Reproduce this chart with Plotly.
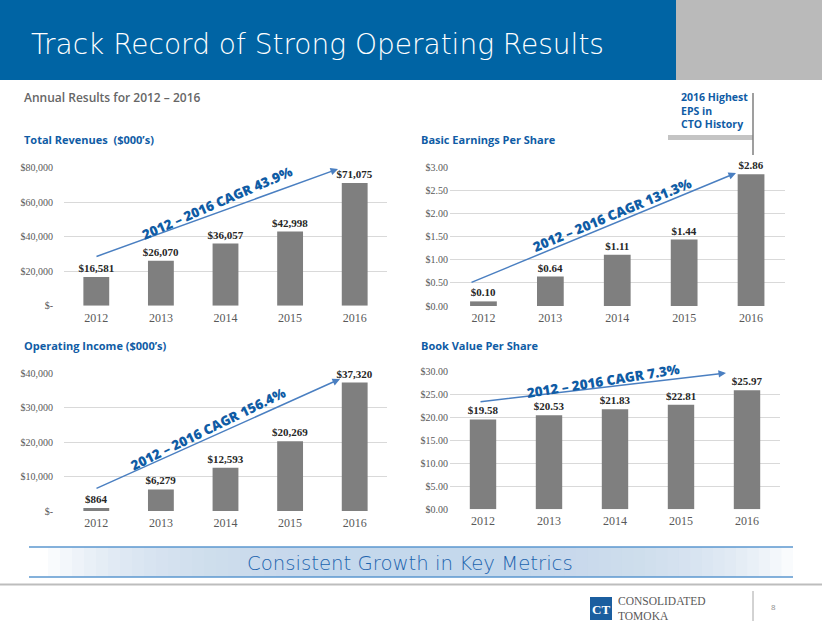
import plotly.graph_objects as go

# ---------------- data ----------------
years = ["2012", "2013", "2014", "2015", "2016"]
revenues = [16581, 26070, 36057, 42998, 71075]
eps = [0.10, 0.64, 1.11, 1.44, 2.86]
op_income = [864, 6279, 12593, 20269, 37320]
book_value = [19.58, 20.53, 21.83, 22.81, 25.97]

rev_ticks = [0, 20000, 40000, 60000, 80000]
rev_ticktext = ["$-", "$20,000", "$40,000", "$60,000", "$80,000"]
eps_ticks = [0, 0.5, 1.0, 1.5, 2.0, 2.5, 3.0]
eps_ticktext = ["$0.00", "$0.50", "$1.00", "$1.50", "$2.00", "$2.50", "$3.00"]
op_ticks = [0, 10000, 20000, 30000, 40000]
op_ticktext = ["$-", "$10,000", "$20,000", "$30,000", "$40,000"]
bv_ticks = [0, 5, 10, 15, 20, 25, 30]
bv_ticktext = ["$0.00", "$5.00", "$10.00", "$15.00", "$20.00", "$25.00", "$30.00"]

chart_titles = ["Total Revenues  ($000\u2019s)", "Basic Earnings Per Share",
                "Operating Income ($000\u2019s)", "Book Value Per Share"]
cagr_labels = ["2012 \u2013 2016 CAGR 43.9%", "2012 \u2013 2016 CAGR 131.3%",
               "2012 \u2013 2016 CAGR 156.4%", "2012 \u2013 2016 CAGR 7.3%"]

W, H = 822, 635
def px(x):
    return x / W
def py(y):
    return 1 - y / H

BLUE = "#0064A4"
TXTBLUE = "#0F5CA5"
BAR = "#7F7F7F"
GRID = "#D9D9D9"
TICK = "#595959"
SERIF = "Liberation Serif"
SANS = "Open Sans"
THIN = "DejaVu Sans"

fig = go.Figure()

series = [
    (revenues, [f"${v:,}" for v in revenues], "x", "y"),
    (eps, [f"${v:.2f}" for v in eps], "x2", "y2"),
    (op_income, [f"${v:,}" for v in op_income], "x3", "y3"),
    (book_value, [f"${v:.2f}" for v in book_value], "x4", "y4"),
]
for vals, labels, xa, ya in series:
    fig.add_trace(go.Bar(
        x=years, y=vals, text=labels, textposition="outside", constraintext="none",
        textfont=dict(family=SERIF, size=11, color="#262626", weight="bold"),
        marker=dict(color=BAR, line=dict(width=0)),
        cliponaxis=False, xaxis=xa, yaxis=ya, showlegend=False, hoverinfo="skip",
    ))

def xax(domain, anchor):
    return dict(domain=domain, anchor=anchor, type="category", showgrid=False,
                showline=False, zeroline=False, ticks="", automargin=False,
                tickfont=dict(family=SERIF, size=12, color=TICK), ticklabelstandoff=3)

def yax(domain, anchor, rng, tv, tt, standoff):
    return dict(domain=domain, anchor=anchor, range=rng, tickvals=tv, ticktext=tt,
                showgrid=True, gridcolor=GRID, gridwidth=1, zeroline=False,
                showline=False, ticks="", automargin=False,
                tickfont=dict(family=SERIF, size=10, color=TICK),
                ticklabelstandoff=standoff)

fig.update_layout(
    template="none",
    width=W, height=H, margin=dict(l=0, r=0, t=0, b=0, pad=0, autoexpand=False),
    paper_bgcolor="white", plot_bgcolor="white", bargap=0.6,
    xaxis=xax([px(64), px(387)], "y"),
    yaxis=yax([py(305.7), py(167.7)], "x", [0, 80000], rev_ticks, rev_ticktext, 10),
    xaxis2=xax([px(450), px(784.5)], "y2"),
    yaxis2=yax([py(306), py(167.7)], "x2", [0, 3.0], eps_ticks, eps_ticktext, 1),
    xaxis3=xax([px(64), px(387)], "y3"),
    yaxis3=yax([py(511), py(373.3)], "x3", [0, 40000], op_ticks, op_ticktext, 10),
    xaxis4=xax([px(450), px(780)], "y4"),
    yaxis4=yax([py(509.3), py(371.7)], "x4", [0, 30], bv_ticks, bv_ticktext, 1),
)

shapes = []
# header band
shapes.append(dict(type="rect", xref="paper", yref="paper", x0=0, x1=px(676), y0=py(80), y1=1,
                   fillcolor=BLUE, line=dict(width=0), layer="below"))
shapes.append(dict(type="rect", xref="paper", yref="paper", x0=px(676), x1=1, y0=py(80), y1=1,
                   fillcolor="#BABABA", line=dict(width=0), layer="below"))
# EPS callout
shapes.append(dict(type="rect", xref="paper", yref="paper", x0=px(668), x1=px(753), y0=py(140), y1=py(135),
                   fillcolor="#C4C4C4", line=dict(width=0)))
shapes.append(dict(type="line", xref="paper", yref="paper", x0=px(753), x1=px(753), y0=py(93), y1=py(155),
                   line=dict(color="#7F7F7F", width=1.5)))
# footer band with soft gradient (white at the edges, pale blue towards the middle)
n = 24
for i in range(n):
    hw = 382 - i * 12
    shapes.append(dict(type="rect", xref="paper", yref="paper", x0=px(430 - hw), x1=px(430 + hw * 0.95),
                       y0=py(577), y1=py(547), fillcolor="rgba(196,214,240,0.1)",
                       line=dict(width=0), layer="below"))
for yy in (547, 577):
    shapes.append(dict(type="line", xref="paper", yref="paper", x0=px(29), x1=px(793), y0=py(yy), y1=py(yy),
                       line=dict(color="#5B97CF", width=1.5)))
shapes.append(dict(type="line", xref="paper", yref="paper", x0=0, x1=1, y0=py(584.5), y1=py(584.5),
                   line=dict(color="#BDBDBD", width=2)))
# logo
shapes.append(dict(type="rect", xref="paper", yref="paper", x0=px(590), x1=px(612), y0=py(620), y1=py(597),
                   fillcolor="#1B5E9F", line=dict(width=0)))
shapes.append(dict(type="line", xref="paper", yref="paper", x0=px(753), x1=px(753), y0=py(591), y1=py(621),
                   line=dict(color="#A6A6A6", width=1)))
fig.update_layout(shapes=shapes)

ann = []
def text(x, y, s, size, color, family=SANS, weight="normal", xanchor="left", yanchor="middle",
         angle=0, align="left"):
    ann.append(dict(x=px(x), y=py(y), xref="paper", yref="paper", text=s, showarrow=False,
                    xanchor=xanchor, yanchor=yanchor, textangle=angle, align=align,
                    font=dict(family=family, size=size, color=color, weight=weight)))

text(29, 44, "Track Record of Strong Operating Results", 28, "white", family=THIN, weight=200)
text(22, 97, "Annual Results for 2012 \u2013 2016", 12, "#666666", weight=600)
text(679, 110, "2016 Highest<br>EPS in<br>CTO History", 10.5, TXTBLUE, weight="bold")
# chart titles
text(22, 139, chart_titles[0], 11, TXTBLUE, weight="bold")
text(419, 139, chart_titles[1], 11, TXTBLUE, weight="bold")
text(22, 345, chart_titles[2], 11, TXTBLUE, weight="bold")
text(419, 345, chart_titles[3], 11, TXTBLUE, weight="bold")

# CAGR arrows (tail -> head, in page pixels)
arrows = [((95, 257), (338, 169)), ((470, 283), (736, 173)),
          ((95, 489), (340, 379)), ((479, 402), (726, 373))]
for (x0, y0), (x1, y1) in arrows:
    ann.append(dict(x=px(x1), y=py(y1), ax=x0 - x1, ay=y0 - y1, xref="paper", yref="paper",
                    axref="pixel", ayref="pixel", text="", showarrow=True,
                    arrowhead=2, arrowsize=1, arrowwidth=1.5, arrowcolor="#4A7FC1", standoff=0))
cagr_pos = [(217, 203, -23.5), (612, 215, -22.5), (208, 429, -26), (603, 381, -9)]
for (cx, cy, ang), s in zip(cagr_pos, cagr_labels):
    text(cx, cy, s, 13.5, TXTBLUE, weight=800, xanchor="center", angle=ang)

# footer
text(410, 563, "Consistent Growth in Key Metrics", 19.7, "#1C64AE", family=THIN, weight=200, xanchor="center")
text(601, 609, "<b>CT</b>", 13, "white", family=SERIF, xanchor="center")
text(616, 601, "CONSOLIDATED", 11.5, "#595959", family=SERIF)
text(616, 616, "TOMOKA", 11.5, "#595959", family=SERIF)
text(773, 606, "8", 8, "#8C8C8C", family=SANS, xanchor="center")

fig.update_layout(annotations=ann)

post = ("document.body.style.margin='0';document.body.style.overflow='hidden';"
        "var d=document.getElementById('{plot_id}');d.style.position='absolute';"
        "d.style.left='0px';d.style.top='0px';")
fig.write_html("out.html", config={"displayModeBar": False}, post_script=post)
